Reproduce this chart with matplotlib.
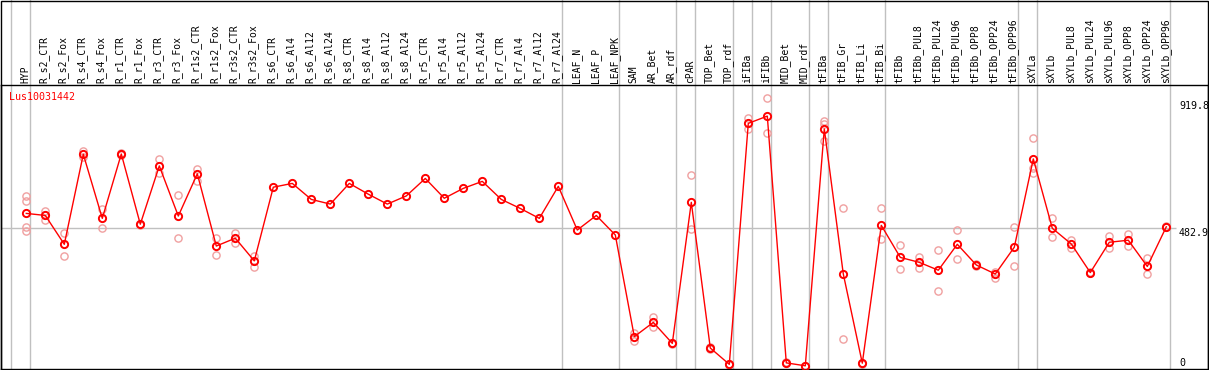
import matplotlib
matplotlib.use("Agg")
import matplotlib.pyplot as plt
from matplotlib.patches import Rectangle

title = "Lus10031442"

labels = ["HYP", "R_s2_CTR", "R_s2_Fox", "R_s4_CTR", "R_s4_Fox", "R_r1_CTR", "R_r1_Fox",
          "R_r3_CTR", "R_r3_Fox", "R_r1s2_CTR", "R_r1s2_Fox", "R_r3s2_CTR", "R_r3s2_Fox",
          "R_s6_CTR", "R_s6_Al4", "R_s6_Al12", "R_s6_Al24", "R_s8_CTR", "R_s8_Al4",
          "R_s8_Al12", "R_s8_Al24", "R_r5_CTR", "R_r5_Al4", "R_r5_Al12", "R_r5_Al24",
          "R_r7_CTR", "R_r7_Al4", "R_r7_Al12", "R_r7_Al24", "LEAF_N", "LEAF_P", "LEAF_NPK",
          "SAM", "AR_Bet", "AR_rdf", "cPAR", "TOP_Bet", "TOP_rdf", "iFIBa", "iFIBb",
          "MID_Bet", "MID_rdf", "tFIBa", "tFIB_Gr", "tFIB_Li", "tFIB_Bi", "tFIBb",
          "tFIBb_PUL8", "tFIBb_PUL24", "tFIBb_PUL96", "tFIBb_OPP8", "tFIBb_OPP24",
          "tFIBb_OPP96", "sXYLa", "sXYLb", "sXYLb_PUL8", "sXYLb_PUL24", "sXYLb_PUL96",
          "sXYLb_OPP8", "sXYLb_OPP24", "sXYLb_OPP96"]

# group sizes (separated by grey vertical lines)
group_sizes = [1, 28, 3, 3, 1, 2, 1, 1, 2, 1, 3, 7, 1, 7]

means = [534, 527, 428, 737, 517, 738, 497, 697, 525, 670, 422, 449, 371,
         624, 637, 582, 566, 637, 600, 566, 594, 654, 586, 620, 644,
         582, 551, 517, 627, 477, 527, 460,
         111, 160, 88, 572, 72, 16, 843, 868, 21, 11, 824, 326, 20, 493, 383,
         366, 339, 428, 357, 326, 418, 721, 483, 429, 331, 435, 442, 352, 488]

replicates = [
    [595, 578, 488, 473], [543, 527, 513], [466, 388], [749, 729], [549, 485],
    [740, 736], [499, 495], [721, 672], [597, 449], [686, 645], [449, 392],
    [467, 431], [388, 351],
    [], [], [], [], [], [], [], [], [], [], [], [], [], [], [], [], [], [], [],
    [122, 97], [180, 143], [90, 86], [665, 480], [74, 70], [18, 14],
    [862, 823], [929, 809], [23, 19], [12, 10], [851, 840, 782], [551, 103],
    [22, 18], [551, 445], [426, 342],
    [385, 346], [407, 267], [477, 376], [359, 355], [334, 313], [486, 353],
    [792, 691, 674], [518, 452], [443, 416], [333, 329], [456, 414], [463, 423],
    [380, 325], [490, 486],
]

ref_lines = [919.8, 482.9, 0]

W, H = 1209, 370
fig = plt.figure(figsize=(W / 100, H / 100), dpi=100)
left_px, right_px, top_px, bot_px = 1, 1208, 85, 369
ax = fig.add_axes([left_px / W, (H - bot_px) / H, (right_px - left_px) / W, (bot_px - top_px) / H])

x0_px, step_px = 26.3, 19.0
ax.set_xlim((left_px - x0_px) / step_px, (right_px - x0_px) / step_px)
px_per_unit = (bot_px - 228.3) / 482.9
ax.set_ylim(0, (bot_px - top_px) / px_per_unit)
ax.set_xticks([])
ax.set_yticks([])
for s in ax.spines.values():
    s.set_linewidth(1.0)
    s.set_color("black")

xs = list(range(len(labels)))

# group separators
ext = (bot_px - 0) / (bot_px - top_px)
bounds = [-1]
acc = -1
for g in group_sizes:
    acc += g
    bounds.append(acc)
for b in bounds:
    ax.axvline(b + 0.21, ymin=0, ymax=ext, color="#c0c0c0", lw=1.0, clip_on=False, zorder=1)

# horizontal reference line
ax.hlines(ref_lines[1], ax.get_xlim()[0], (1176 - x0_px) / step_px, color="#c0c0c0", lw=1.0, zorder=1)

# replicates
rx, ry = [], []
for i, reps in enumerate(replicates):
    for v in reps:
        rx.append(i)
        ry.append(v)
ax.plot(rx, ry, linestyle="none", marker="o", ms=5.2, mfc="none", mec="#f0a0a0", mew=1.0, zorder=2)

# means
ax.plot(xs, means, color="red", lw=1.0, zorder=3)
ax.plot(xs, means, linestyle="none", marker="o", ms=5.2, mfc="none", mec="red", mew=1.4, zorder=4)

# column labels
for i, lab in enumerate(labels):
    ax.text(i - 0.06, 1 + 2.0 / (bot_px - top_px), lab, rotation=90, ha="center", va="bottom",
            fontsize=7, family="DejaVu Sans Mono", transform=ax.get_xaxis_transform())

# title
ax.text((9 - left_px) / (right_px - left_px), 1 - (92 - top_px) / (bot_px - top_px), title,
        color="red", fontsize=7.2, family="DejaVu Sans Mono", ha="left", va="top",
        transform=ax.transAxes)

# right value labels
xr = (1179 - left_px) / (right_px - left_px)
ax.text(xr, ref_lines[0], f"{ref_lines[0]}", fontsize=7.2, family="DejaVu Sans Mono",
        ha="left", va="top", transform=ax.get_yaxis_transform())
ax.text(xr, ref_lines[1], f"{ref_lines[1]}", fontsize=7.2, family="DejaVu Sans Mono",
        ha="left", va="top", transform=ax.get_yaxis_transform())
ax.text(xr, ref_lines[2] + 4, f"{ref_lines[2]:g}", fontsize=7.2, family="DejaVu Sans Mono",
        ha="left", va="bottom", transform=ax.get_yaxis_transform())

# outer border
fig.patches.append(Rectangle((0.5 / W, 0.5 / H), (W - 1.5) / W, (H - 1.5) / H, fill=False,
                             edgecolor="black", lw=1.0, transform=fig.transFigure, figure=fig))

fig.savefig("out.png", dpi=100)
